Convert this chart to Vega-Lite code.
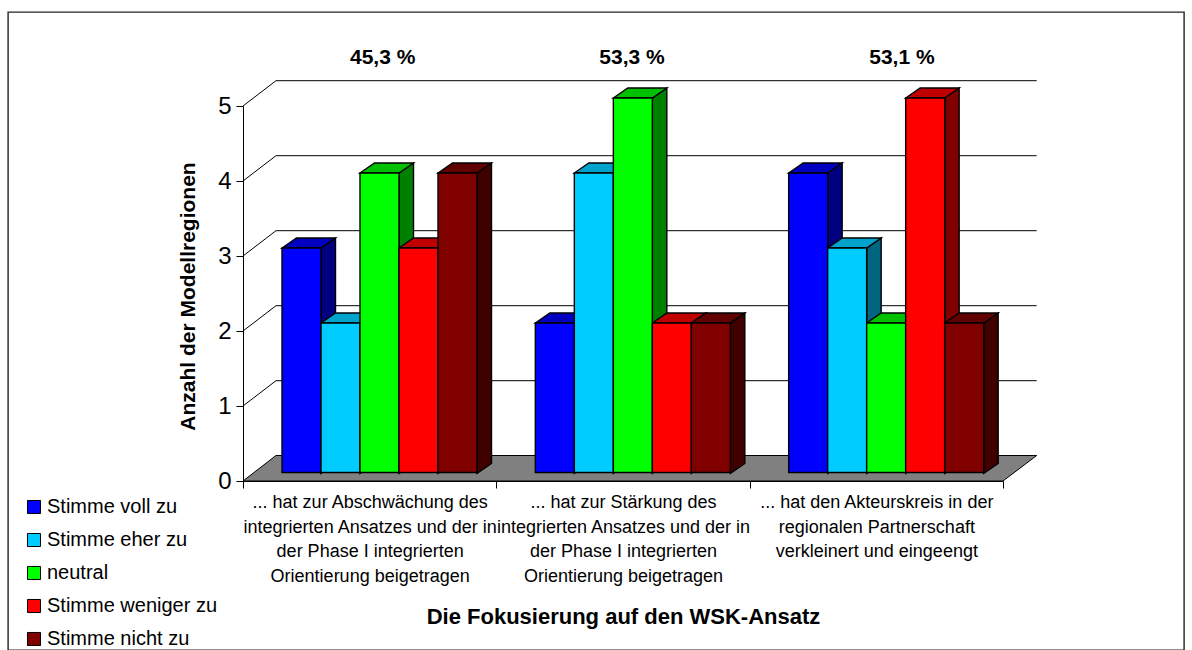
{
"$schema":"https://vega.github.io/schema/vega-lite/v6.json",
"width":1176,"height":638,
"autosize":{"type":"none"},
"padding":{"left":8,"top":12,"right":8,"bottom":0},
"background":"white",
"config":{"font":"Liberation Sans","view":{"stroke":"#222222","strokeWidth":1.4}},
"datasets":{
"bars":[
{"cat":"... hat zur Abschwächung des|integrierten Ansatzes und der in|der Phase I integrierten|Orientierung beigetragen","series":"Stimme voll zu","v":3},
{"cat":"... hat zur Abschwächung des|integrierten Ansatzes und der in|der Phase I integrierten|Orientierung beigetragen","series":"Stimme eher zu","v":2},
{"cat":"... hat zur Abschwächung des|integrierten Ansatzes und der in|der Phase I integrierten|Orientierung beigetragen","series":"neutral","v":4},
{"cat":"... hat zur Abschwächung des|integrierten Ansatzes und der in|der Phase I integrierten|Orientierung beigetragen","series":"Stimme weniger zu","v":3},
{"cat":"... hat zur Abschwächung des|integrierten Ansatzes und der in|der Phase I integrierten|Orientierung beigetragen","series":"Stimme nicht zu","v":4},
{"cat":"... hat zur Stärkung des|integrierten Ansatzes und der in|der Phase I integrierten|Orientierung beigetragen","series":"Stimme voll zu","v":2},
{"cat":"... hat zur Stärkung des|integrierten Ansatzes und der in|der Phase I integrierten|Orientierung beigetragen","series":"Stimme eher zu","v":4},
{"cat":"... hat zur Stärkung des|integrierten Ansatzes und der in|der Phase I integrierten|Orientierung beigetragen","series":"neutral","v":5},
{"cat":"... hat zur Stärkung des|integrierten Ansatzes und der in|der Phase I integrierten|Orientierung beigetragen","series":"Stimme weniger zu","v":2},
{"cat":"... hat zur Stärkung des|integrierten Ansatzes und der in|der Phase I integrierten|Orientierung beigetragen","series":"Stimme nicht zu","v":2},
{"cat":"... hat den Akteurskreis in der|regionalen Partnerschaft|verkleinert und eingeengt","series":"Stimme voll zu","v":4},
{"cat":"... hat den Akteurskreis in der|regionalen Partnerschaft|verkleinert und eingeengt","series":"Stimme eher zu","v":3},
{"cat":"... hat den Akteurskreis in der|regionalen Partnerschaft|verkleinert und eingeengt","series":"neutral","v":2},
{"cat":"... hat den Akteurskreis in der|regionalen Partnerschaft|verkleinert und eingeengt","series":"Stimme weniger zu","v":5},
{"cat":"... hat den Akteurskreis in der|regionalen Partnerschaft|verkleinert und eingeengt","series":"Stimme nicht zu","v":2}
],
"grid":[
{"cat":"... hat zur Abschwächung des|integrierten Ansatzes und der in|der Phase I integrierten|Orientierung beigetragen","v":1},
{"cat":"... hat zur Abschwächung des|integrierten Ansatzes und der in|der Phase I integrierten|Orientierung beigetragen","v":2},
{"cat":"... hat zur Abschwächung des|integrierten Ansatzes und der in|der Phase I integrierten|Orientierung beigetragen","v":3},
{"cat":"... hat zur Abschwächung des|integrierten Ansatzes und der in|der Phase I integrierten|Orientierung beigetragen","v":4},
{"cat":"... hat zur Abschwächung des|integrierten Ansatzes und der in|der Phase I integrierten|Orientierung beigetragen","v":5}
],
"floor":[
{"cat":"... hat zur Abschwächung des|integrierten Ansatzes und der in|der Phase I integrierten|Orientierung beigetragen","v":0}
],
"shares":[
{"cat":"... hat zur Abschwächung des|integrierten Ansatzes und der in|der Phase I integrierten|Orientierung beigetragen","share":"45,3 %","v":5},
{"cat":"... hat zur Stärkung des|integrierten Ansatzes und der in|der Phase I integrierten|Orientierung beigetragen","share":"53,3 %","v":5},
{"cat":"... hat den Akteurskreis in der|regionalen Partnerschaft|verkleinert und eingeengt","share":"53,1 %","v":5}
]
},
"encoding":{
"x":{"field":"cat","type":"nominal","sort":null,
 "scale":{"domain":["... hat zur Abschwächung des|integrierten Ansatzes und der in|der Phase I integrierten|Orientierung beigetragen","... hat zur Stärkung des|integrierten Ansatzes und der in|der Phase I integrierten|Orientierung beigetragen","... hat den Akteurskreis in der|regionalen Partnerschaft|verkleinert und eingeengt"],"range":[235,995],"paddingInner":0,"paddingOuter":0},
 "axis":{"title":"Die Fokusierung auf den WSK-Ansatz","titleFontSize":22,"titleFontWeight":"bold","titleColor":"black","titleX":615,"titleY":135,"titleBaseline":"middle","titleAnchor":"middle","offset":-169,"tickBand":"extent","tickSize":7,"tickColor":"black","domainColor":"black","labelAngle":0,"labelAlign":"center","labelBaseline":"middle","labelExpr":"split(datum.label,'|')","labelFontSize":18,"labelColor":"black","labelLineHeight":24.6,"labelPadding":14.5,"labelLimit":0,"labelOverlap":false,"grid":false}},
"y":{"field":"v","type":"quantitative",
 "scale":{"domain":[0,5],"range":[469,94],"nice":false},
 "axis":{"title":"Anzahl der Modellregionen","titleFontSize":21,"titleFontWeight":"bold","titleColor":"black","titleX":-55,"titleY":284,"titleAnchor":"middle","titleBaseline":"middle","offset":-235,"values":[0,1,2,3,4,5],"tickSize":7,"tickColor":"black","domainColor":"black","labelFontSize":24,"labelColor":"black","labelPadding":5,"grid":false,"format":"d"}}
},
"layer":[
{"data":{"name":"floor"},
 "mark":{"type":"point","filled":true,"opacity":1,"size":4,"fill":"#808080","stroke":"black","strokeWidth":1,"shape":"M-126.67,0L-93.67,-25.5L667,-25.5L633.33,0Z"}},
{"data":{"name":"grid"},
 "mark":{"type":"point","filled":false,"opacity":1,"size":4,"stroke":"black","strokeWidth":1,"shape":"M-126.67,0L-93.67,-25.3L667,-25.3"}},
{"data":{"name":"bars"},
 "mark":{"type":"point","filled":true,"opacity":1,"size":4,"stroke":"black","strokeWidth":1.4,"yOffset":-8},
 "encoding":{
  "xOffset":{"field":"series","type":"nominal","sort":null,"scale":{"domain":["Stimme voll zu","Stimme eher zu","neutral","Stimme weniger zu","Stimme nicht zu"],"range":[39,234],"paddingInner":0,"paddingOuter":0}},
  "shape":{"field":"v","type":"nominal","legend":null,"scale":{"domain":[2,3,4,5],"range":["M19.5,0L34,-10L34,140.5L19.5,150.5Z","M19.5,0L34,-10L34,215.5L19.5,225.5Z","M19.5,0L34,-10L34,290.5L19.5,300.5Z","M19.5,0L34,-10L34,365.5L19.5,375.5Z"]}},
  "fill":{"field":"series","type":"nominal","legend":null,"scale":{"domain":["Stimme voll zu","Stimme eher zu","neutral","Stimme weniger zu","Stimme nicht zu"],"range":["#000080","#006680","#008000","#800000","#400000"]}}
 }},
{"data":{"name":"bars"},
 "mark":{"type":"point","filled":true,"opacity":1,"size":4,"stroke":"black","strokeWidth":1.4,"yOffset":-8,"shape":"M-19.5,0L-5,-10L34,-10L19.5,0Z"},
 "encoding":{
  "xOffset":{"field":"series","type":"nominal","sort":null,"scale":{"domain":["Stimme voll zu","Stimme eher zu","neutral","Stimme weniger zu","Stimme nicht zu"],"range":[39,234],"paddingInner":0,"paddingOuter":0}},
  "fill":{"field":"series","type":"nominal","legend":null,"scale":{"domain":["Stimme voll zu","Stimme eher zu","neutral","Stimme weniger zu","Stimme nicht zu"],"range":["#0000C0","#00A3CC","#00C000","#C00000","#600000"]}}
 }},
{"data":{"name":"bars"},
 "mark":{"type":"bar","stroke":"black","strokeWidth":1.4,"yOffset":-8,"y2Offset":-8.5},
 "encoding":{
  "xOffset":{"field":"series","type":"nominal","sort":null,"scale":{"domain":["Stimme voll zu","Stimme eher zu","neutral","Stimme weniger zu","Stimme nicht zu"],"range":[39,234],"paddingInner":0,"paddingOuter":0}},
  "y2":{"datum":0},
  "fill":{"field":"series","type":"nominal","scale":{"domain":["Stimme voll zu","Stimme eher zu","neutral","Stimme weniger zu","Stimme nicht zu"],"range":["#0000FF","#00CCFF","#00FF00","#FF0000","#800000"]},
   "legend":{"title":null,"orient":"none","legendX":16,"legendY":485,"symbolType":"square","symbolSize":170,"symbolStrokeColor":"black","symbolStrokeWidth":1,"labelFontSize":20,"labelColor":"black","labelOffset":3,"rowPadding":13,"labelLimit":300}}
 }},
{"data":{"name":"shares"},"transform":[{"filter":"datum.share==='45,3 %'"}],
 "mark":{"type":"text","fontWeight":"bold","fontSize":21,"color":"black","dx":13,"dy":-48},
 "encoding":{"text":{"field":"share"}}},
{"data":{"name":"shares"},"transform":[{"filter":"datum.share==='53,3 %'"}],
 "mark":{"type":"text","fontWeight":"bold","fontSize":21,"color":"black","dx":9,"dy":-48},
 "encoding":{"text":{"field":"share"}}},
{"data":{"name":"shares"},"transform":[{"filter":"datum.share==='53,1 %'"}],
 "mark":{"type":"text","fontWeight":"bold","fontSize":21,"color":"black","dx":25.6,"dy":-48},
 "encoding":{"text":{"field":"share"}}}
],
"resolve":{"scale":{"fill":"independent"}}
}
